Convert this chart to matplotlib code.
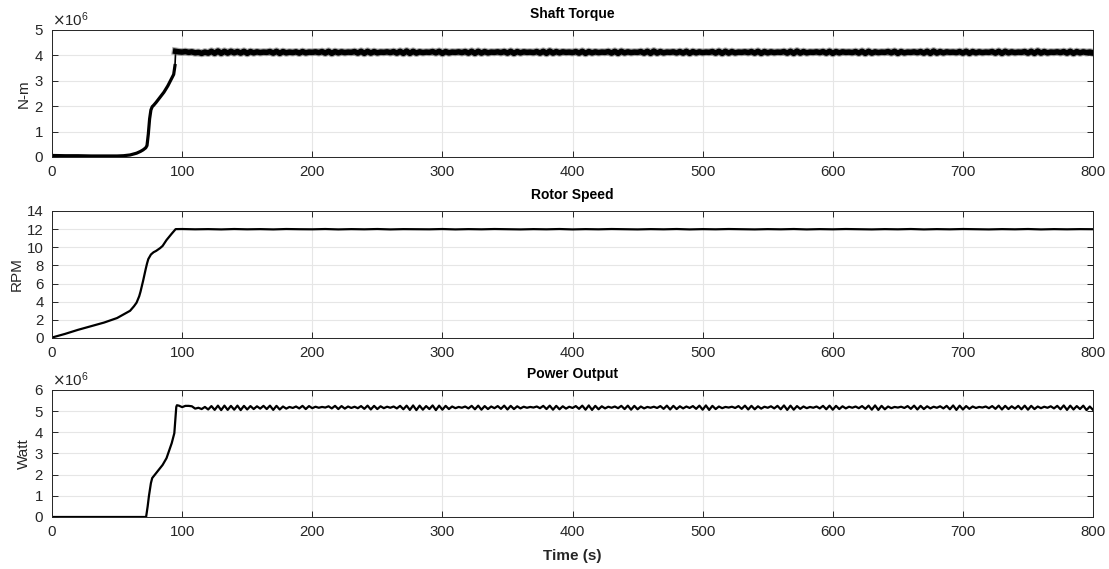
import matplotlib.pyplot as plt
import matplotlib.ticker as mticker
import numpy as np

plt.rcParams['font.family'] = ['Liberation Sans', 'DejaVu Sans']

# ---- Shaft torque (x1e6 N-m) ----
torque_start_t = [0, 10, 20, 30, 40, 50, 55, 60, 65, 68, 70, 72, 73, 74, 75, 76, 77,
                  78, 80, 83, 86, 89, 92, 93.5, 94.5]
torque_start = [0.06, 0.05, 0.05, 0.04, 0.04, 0.04, 0.05, 0.08, 0.15, 0.22, 0.28, 0.36,
                0.45, 0.9, 1.5, 1.85, 1.98, 2.03, 2.15, 2.35, 2.55, 2.8, 3.1, 3.25, 3.6]
# steady part, every 2.5 s from t = 95
torque_steady = [
    4.16, 4.14, 4.13, 4.15, 4.12, 4.14, 4.10, 4.12, 4.08, 4.13, 4.09, 4.16, 4.08, 4.17, 4.08, 4.16, 4.09, 4.16, 4.10, 4.15,
    4.09, 4.16, 4.08, 4.15, 4.10, 4.14, 4.11, 4.13, 4.12, 4.15, 4.09, 4.16, 4.08, 4.15, 4.10, 4.13, 4.11, 4.14, 4.09, 4.15,
    4.10, 4.13, 4.12, 4.14, 4.11, 4.15, 4.09, 4.16, 4.08, 4.15, 4.10, 4.14, 4.11, 4.13, 4.12, 4.15, 4.09, 4.16, 4.08, 4.16,
    4.09, 4.15, 4.10, 4.13, 4.12, 4.14, 4.11, 4.15, 4.09, 4.16, 4.08, 4.17, 4.08, 4.16, 4.09, 4.14, 4.11, 4.13, 4.12, 4.15,
    4.10, 4.16, 4.08, 4.15, 4.10, 4.13, 4.12, 4.14, 4.11, 4.15, 4.09, 4.16, 4.08, 4.16, 4.09, 4.15, 4.10, 4.13, 4.12, 4.14,
    4.11, 4.15, 4.09, 4.16, 4.08, 4.15, 4.10, 4.14, 4.12, 4.13, 4.11, 4.15, 4.09, 4.16, 4.08, 4.17, 4.09, 4.15, 4.10, 4.14,
    4.12, 4.13, 4.11, 4.15, 4.09, 4.16, 4.08, 4.15, 4.10, 4.14, 4.11, 4.13, 4.12, 4.15, 4.09, 4.16, 4.08, 4.16, 4.10, 4.14,
    4.11, 4.13, 4.12, 4.15, 4.09, 4.16, 4.08, 4.17, 4.09, 4.15, 4.10, 4.13, 4.12, 4.14, 4.10, 4.15, 4.09, 4.16, 4.08, 4.15,
    4.10, 4.14, 4.11, 4.13, 4.12, 4.15, 4.09, 4.16, 4.08, 4.16, 4.09, 4.15, 4.10, 4.13, 4.12, 4.14, 4.11, 4.15, 4.09, 4.16,
    4.08, 4.15, 4.10, 4.14, 4.11, 4.13, 4.12, 4.15, 4.09, 4.16, 4.08, 4.17, 4.09, 4.15, 4.10, 4.13, 4.12, 4.14, 4.11, 4.15,
    4.09, 4.16, 4.08, 4.15, 4.10, 4.14, 4.12, 4.13, 4.11, 4.15, 4.09, 4.16, 4.08, 4.16, 4.09, 4.14, 4.11, 4.13, 4.12, 4.15,
    4.10, 4.16, 4.08, 4.15, 4.10, 4.13, 4.12, 4.14, 4.11, 4.15, 4.09, 4.16, 4.08, 4.17, 4.09, 4.15, 4.10, 4.14, 4.12, 4.13,
    4.11, 4.15, 4.09, 4.16, 4.08, 4.15, 4.10, 4.14, 4.11, 4.13, 4.12, 4.15, 4.09, 4.16, 4.08, 4.16, 4.10, 4.14, 4.11, 4.13,
    4.12, 4.15, 4.09, 4.16, 4.08, 4.17, 4.09, 4.15, 4.10, 4.13, 4.12, 4.14, 4.11, 4.15, 4.09, 4.16, 4.08, 4.15, 4.10, 4.14,
    4.11, 4.13, 4.10,
]

# ---- Rotor speed (RPM) ----
speed_start_t = [0, 10, 20, 30, 40, 50, 55, 60, 63, 65, 67, 68, 70, 72, 73, 74, 76, 78,
                 80, 83, 85, 88, 92, 95]
speed_start = [0.05, 0.45, 0.9, 1.3, 1.7, 2.2, 2.6, 3.0, 3.5, 3.9, 4.6, 5.1, 6.3, 7.6,
               8.2, 8.7, 9.2, 9.45, 9.6, 9.9, 10.15, 10.8, 11.5, 12.0]
# steady part, every 10 s from t = 100
speed_steady = [
    12.01, 11.98, 12.00, 11.97, 12.01, 11.98, 12.00, 11.97, 12.01, 11.99,
    11.98, 12.01, 11.97, 12.00, 11.98, 12.01, 11.97, 12.00, 11.99, 11.98,
    12.01, 11.97, 12.00, 11.98, 12.01, 11.99, 11.97, 12.00, 11.98, 12.01,
    11.97, 12.00, 11.98, 12.01, 11.99, 11.97, 12.00, 11.98, 12.01, 11.97,
    12.00, 11.98, 12.01, 11.99, 11.97, 12.00, 11.98, 12.01, 11.97, 12.00,
    11.98, 12.01, 11.99, 11.97, 12.00, 11.98, 12.01, 11.97, 12.00, 11.98,
    12.01, 11.99, 11.97, 12.00, 11.98, 12.01, 11.97, 12.00, 11.98, 12.00,
    11.99,
]

# ---- Power output (x1e6 W) ----
power_start_t = [0, 72.3, 73.5, 74.5, 76, 77, 80, 85, 88, 92, 94, 95.5, 96]
power_start = [0, 0, 0.5, 1.0, 1.6, 1.84, 2.07, 2.46, 2.78, 3.49, 3.96, 5.2, 5.28]
# steady part, every 2.5 s from t = 97.5
power_steady = [
    5.26, 5.19, 5.25, 5.25, 5.23, 5.12, 5.16, 5.10, 5.20, 5.08, 5.24, 5.06, 5.26, 5.05, 5.26, 5.06, 5.25, 5.07, 5.26, 5.05,
    5.25, 5.08, 5.24, 5.10, 5.23, 5.12, 5.25, 5.10, 5.26, 5.06, 5.25, 5.08, 5.22, 5.12, 5.20, 5.15, 5.22, 5.13, 5.25, 5.10,
    5.24, 5.14, 5.21, 5.16, 5.20, 5.17, 5.23, 5.13, 5.25, 5.10, 5.24, 5.12, 5.22, 5.15, 5.21, 5.14, 5.24, 5.11, 5.26, 5.08,
    5.25, 5.10, 5.23, 5.14, 5.21, 5.16, 5.22, 5.13, 5.25, 5.09, 5.26, 5.06, 5.27, 5.05, 5.26, 5.07, 5.24, 5.10, 5.27, 5.05,
    5.26, 5.07, 5.25, 5.10, 5.22, 5.14, 5.20, 5.16, 5.22, 5.13, 5.25, 5.09, 5.26, 5.07, 5.24, 5.10, 5.22, 5.14, 5.24, 5.11,
    5.26, 5.08, 5.25, 5.10, 5.23, 5.13, 5.21, 5.16, 5.20, 5.17, 5.22, 5.14, 5.25, 5.10, 5.26, 5.07, 5.25, 5.09, 5.23, 5.12,
    5.21, 5.15, 5.24, 5.11, 5.26, 5.07, 5.27, 5.06, 5.25, 5.09, 5.23, 5.13, 5.21, 5.16, 5.22, 5.14, 5.25, 5.10, 5.26, 5.07,
    5.25, 5.09, 5.22, 5.13, 5.20, 5.16, 5.21, 5.15, 5.24, 5.11, 5.26, 5.08, 5.25, 5.10, 5.23, 5.13, 5.22, 5.15, 5.24, 5.11,
    5.26, 5.07, 5.27, 5.06, 5.25, 5.10, 5.22, 5.14, 5.20, 5.17, 5.21, 5.15, 5.24, 5.11, 5.26, 5.08, 5.25, 5.09, 5.23, 5.12,
    5.21, 5.16, 5.23, 5.13, 5.25, 5.09, 5.27, 5.06, 5.26, 5.07, 5.24, 5.11, 5.22, 5.14, 5.20, 5.16, 5.22, 5.13, 5.25, 5.09,
    5.26, 5.07, 5.25, 5.10, 5.23, 5.13, 5.21, 5.16, 5.22, 5.14, 5.24, 5.11, 5.26, 5.07, 5.27, 5.06, 5.25, 5.09, 5.22, 5.14,
    5.20, 5.17, 5.21, 5.15, 5.24, 5.11, 5.26, 5.08, 5.25, 5.10, 5.23, 5.13, 5.21, 5.16, 5.23, 5.13, 5.25, 5.09, 5.27, 5.06,
    5.26, 5.08, 5.24, 5.11, 5.22, 5.15, 5.20, 5.17, 5.22, 5.14, 5.24, 5.11, 5.26, 5.08, 5.25, 5.10, 5.23, 5.12, 5.25, 5.09,
    5.26, 5.07, 5.25, 5.10, 5.22, 5.14, 5.21, 5.16, 5.23, 5.13, 5.25, 5.09, 5.27, 5.06, 5.26, 5.08, 5.24, 5.10, 5.26, 5.05,
    5.22, 5.06,
]

x_ticks = [0, 100, 200, 300, 400, 500, 600, 700, 800]

# sampling grids of the steady parts
t_torque_ss = 95 + 2.5 * np.arange(len(torque_steady))
t_speed_ss = 100 + 10 * np.arange(len(speed_steady))
t_power_ss = 97.5 + 2.5 * np.arange(len(power_steady))

dark = '#262626'
fig = plt.figure(figsize=(11.09, 5.69), dpi=100)
ax1 = fig.add_axes([0.0469, 0.7241, 0.9387, 0.2232])
ax2 = fig.add_axes([0.0469, 0.4060, 0.9387, 0.2232])
ax3 = fig.add_axes([0.0469, 0.0914, 0.9387, 0.2232])


def style(ax, title, ylabel, yticks):
    ax.set_xlim(0, 800)
    ax.set_xticks(x_ticks)
    ax.set_yticks(yticks)
    ax.set_ylim(yticks[0], yticks[-1])
    ax.grid(True, color='#e6e6e6', linewidth=0.8)
    ax.set_axisbelow(True)
    ax.tick_params(direction='in', top=True, right=True, length=4,
                   labelsize=10.8, colors=dark, width=0.7, pad=6)
    for s in ax.spines.values():
        s.set_color(dark)
        s.set_linewidth(0.7)
    ax.set_title(title, fontsize=10, fontweight='bold', color='black', pad=8.5)
    ax.set_ylabel(ylabel, fontsize=11, color=dark, labelpad=2)


# Shaft torque
ax1.plot(np.array(torque_start_t), np.array(torque_start) * 1e6, color='black', lw=2.3)
ax1.plot([torque_start_t[-1], t_torque_ss[0]], [torque_start[-1] * 1e6, torque_steady[0] * 1e6],
         color='black', lw=1.2)
ax1.plot(t_torque_ss, np.array(torque_steady) * 1e6, color='#555555', lw=5.6, alpha=0.5)
ax1.plot(t_torque_ss, np.array(torque_steady) * 1e6, color='black', lw=4.0)
style(ax1, 'Shaft Torque', 'N-m', [0, 1e6, 2e6, 3e6, 4e6, 5e6])

# Rotor speed
ax2.plot(np.concatenate([speed_start_t, t_speed_ss]),
         np.concatenate([speed_start, speed_steady]), color='black', lw=1.6)
style(ax2, 'Rotor Speed', 'RPM', [0, 2, 4, 6, 8, 10, 12, 14])

# Power output
ax3.plot(np.concatenate([power_start_t, t_power_ss]),
         np.concatenate([power_start, power_steady]) * 1e6, color='black', lw=1.6)
style(ax3, 'Power Output', 'Watt', [0, 1e6, 2e6, 3e6, 4e6, 5e6, 6e6])
ax3.set_xlabel('Time (s)', fontsize=11, fontweight='bold', color=dark, labelpad=7)

for ax in (ax1, ax3):
    fmt = mticker.ScalarFormatter(useMathText=True)
    fmt.set_powerlimits((0, 0))
    ax.yaxis.set_major_formatter(fmt)
    ax.yaxis.get_offset_text().set_fontsize(10.8)
    ax.yaxis.get_offset_text().set_color(dark)

fig.savefig('out.png', dpi=100)
